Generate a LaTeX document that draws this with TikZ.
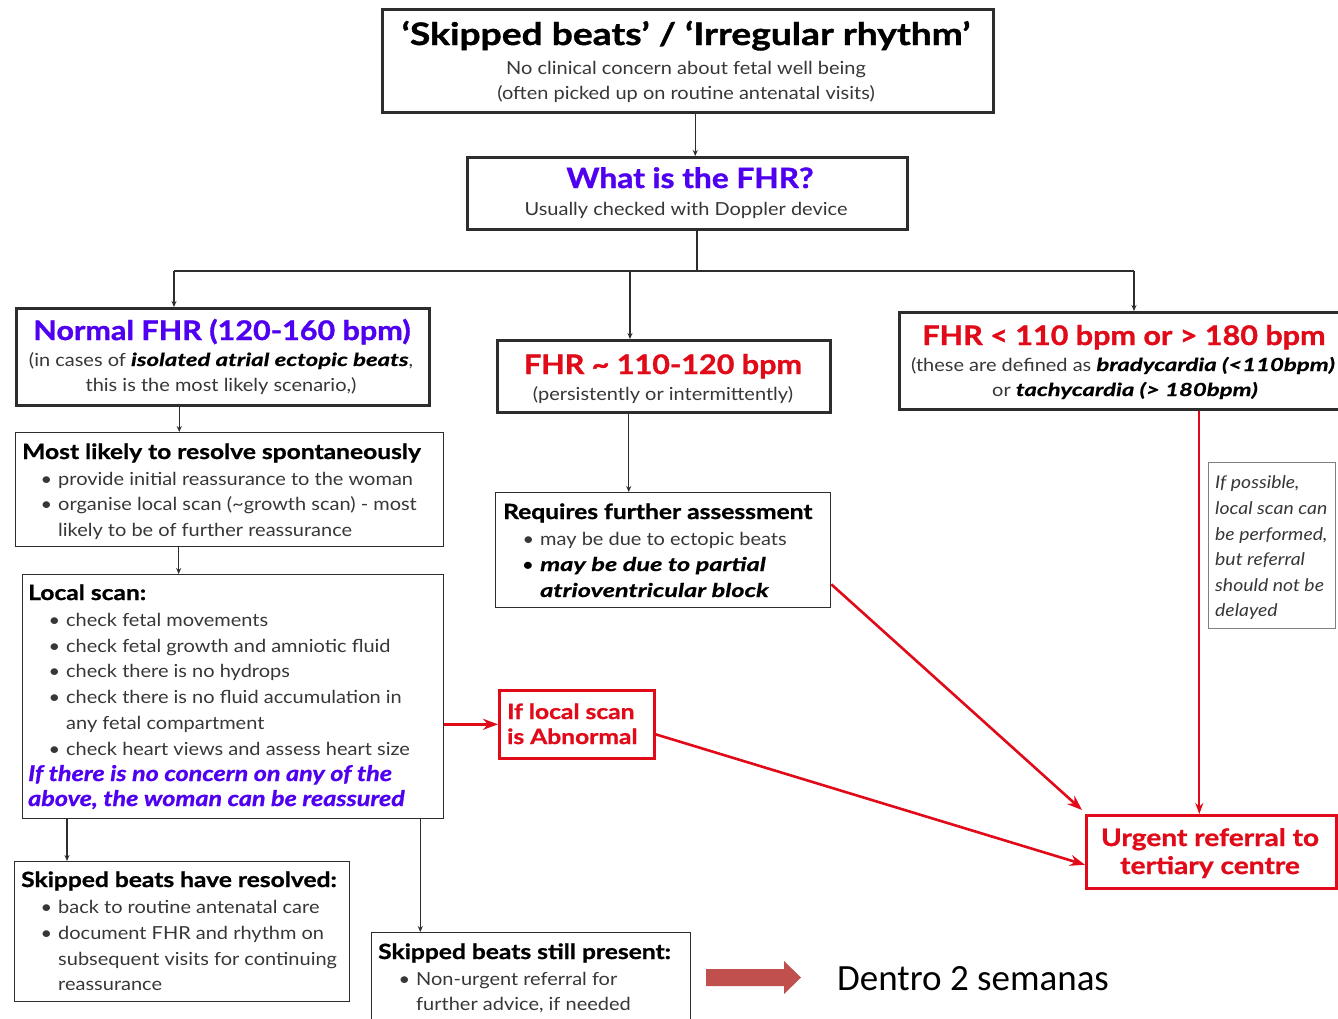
\documentclass[tikz,border=0pt]{standalone}
\usepackage{fontspec}
\setmainfont{Lato}[FakeStretch=1.11]
\newfontfamily\titlefont{Lato}[FakeStretch=1.13, FakeBold=1.2]
\newfontfamily\toptitlefont{Lato}[FakeStretch=1.2, FakeBold=1.2]
\newfontfamily\headfont{Lato}[FakeStretch=1.17, FakeBold=1.0]
\newfontfamily\bifont{Lato}[FakeStretch=1.33, FakeBold=0.6]
\newfontfamily\calibri{Carlito}
\usetikzlibrary{arrows.meta,calc}
\definecolor{fhrblue}{RGB}{80,0,240}
\definecolor{alarm}{RGB}{225,10,25}
\definecolor{blockred}{RGB}{192,80,77}
\definecolor{ink}{RGB}{45,45,45}
\definecolor{bodyink}{RGB}{55,55,55}
\newcommand{\bi}[1]{{\bifont\bfseries\itshape\color{black}#1}}
\newcommand{\bul}{\llap{\textbullet\hspace{6pt}}}
\begin{document}
\begin{tikzpicture}[x=1pt,y=-1pt,
  heavybox/.style={draw=ink, line width=2.5pt, rectangle, inner sep=0, anchor=north west},
  thinbox/.style={draw=ink, line width=1.3pt, rectangle, inner sep=0, anchor=north west},
  notebox/.style={draw=gray, line width=1.3pt, rectangle, inner sep=0, anchor=north west},
  redbox/.style={draw=alarm, line width=2.6pt, rectangle, inner sep=0, anchor=north west},
  conn/.style={draw=ink, line width=1.2pt, -{Stealth[length=6pt,width=5pt]}},
  wire/.style={draw=ink, line width=1.2pt},
  redarrow/.style={draw=alarm, line width=2.6pt, -{Stealth[length=15pt,width=11pt]}},
  redthin/.style={draw=alarm, line width=2pt, -{Stealth[length=11pt,width=8pt]}},
  tx/.style={inner sep=0, text=bodyink, font=\fontsize{18}{18}\selectfont},
  hd/.style={inner sep=0, text=black, font=\headfont\fontsize{21}{21}\selectfont\bfseries},
  big/.style={inner sep=0, font=\titlefont\fontsize{27}{27}\selectfont\bfseries},
  note/.style={inner sep=0, text=bodyink, font=\fontsize{17.5}{17.5}\selectfont\itshape},
  redtx/.style={inner sep=0, text=alarm, font=\headfont\fontsize{21}{21}\selectfont\bfseries},
]
\useasboundingbox[fill=white] (0,0) rectangle (1338,1018);

% ---------- boxes ----------
\node[heavybox, minimum width=611, minimum height=103] (top) at (381,8) {};
\node[heavybox, minimum width=440, minimum height=72] (fhr) at (466,156) {};
\node[heavybox, minimum width=413, minimum height=97] (normal) at (15,307) {};
\node[heavybox, minimum width=333, minimum height=72] (mid) at (496,339) {};
\node[heavybox, minimum width=446, minimum height=97] (rbox) at (898,311) {};
\node[thinbox, minimum width=428, minimum height=114] (likely) at (15,432) {};
\node[thinbox, minimum width=421, minimum height=244] (local) at (22,574) {};
\node[thinbox, minimum width=335, minimum height=115] (req) at (495,492) {};
\node[notebox, minimum width=127, minimum height=166] (side) at (1208,462) {};
\node[redbox, minimum width=155, minimum height=68] (abn) at (498,689) {};
\node[redbox, minimum width=250, minimum height=73] (urg) at (1085,814) {};
\node[thinbox, minimum width=335, minimum height=140] (resolved) at (14,861) {};
\node[thinbox, minimum width=319, minimum height=100] (present) at (371,932) {};

% ---------- texts ----------
\node[big, font=\toptitlefont\fontsize{31}{31}\selectfont\bfseries, anchor=base] (topT) at (686,45) {‘Skipped beats’ / ‘Irregular rhythm’};
\node[tx, anchor=base] (topA) at (686,74) {No clinical concern about fetal well being};
\node[tx, anchor=base] (topB) at (686,99) {(often picked up on routine antenatal visits)};

\node[big, text=fhrblue, font=\titlefont\fontsize{28}{28}\selectfont\bfseries, anchor=base] (fhrT) at (690,188) {What is the FHR?};
\node[tx, anchor=base] (fhrA) at (686,215) {Usually checked with Doppler device};

\node[big, text=fhrblue, anchor=base] (normT) at (222,340) {Normal FHR (120-160 bpm)};
\node[tx, anchor=base] (normA) at (221,366) {(in cases of \bi{isolated atrial ectopic beats},};
\node[tx, anchor=base] (normB) at (221,391) {this is the most likely scenario,)};

\node[big, text=alarm, anchor=base] (midT) at (663,374) {FHR \textasciitilde{} 110-120 bpm};
\node[tx, anchor=base] (midA) at (663,400) {(persistently or intermittently)};

\node[big, text=alarm, anchor=base] (rT) at (1124,345) {FHR < 110 bpm or > 180 bpm};
\node[tx, anchor=base] (rA) at (1123,371) {(these are defined as \bi{bradycardia (<110bpm)}};
\node[tx, anchor=base] (rB) at (1125,396) {or \bi{tachycardia (> 180bpm)}};

\node[hd, anchor=base west] (likT) at (22,459) {Most likely to resolve spontaneously};
\node[tx, anchor=base west] (likA) at (58,485) {\bul provide initial reassurance to the woman};
\node[tx, anchor=base west] (likB) at (58,510) {\bul organise local scan (\textasciitilde growth scan) - most};
\node[tx, anchor=base west] (likC) at (58,536) {likely to be of further reassurance};

\node[hd, anchor=base west] (locT) at (28,600) {Local scan:};
\node[tx, anchor=base west] (locA) at (66,626) {\bul check fetal movements};
\node[tx, anchor=base west] (locB) at (66,652) {\bul check fetal growth and amniotic fluid};
\node[tx, anchor=base west] (locC) at (66,677) {\bul check there is no hydrops};
\node[tx, anchor=base west] (locD) at (66,703) {\bul check there is no fluid accumulation in};
\node[tx, anchor=base west] (locE) at (66,729) {any fetal compartment};
\node[tx, anchor=base west] (locF) at (66,755) {\bul check heart views and assess heart size};
\node[hd, text=fhrblue, font=\headfont\fontsize{21.5}{21.5}\selectfont\bfseries\itshape, anchor=base west] (locG) at (28,781) {If there is no concern on any of the};
\node[hd, text=fhrblue, font=\headfont\fontsize{21.5}{21.5}\selectfont\bfseries\itshape, anchor=base west] (locH) at (28,806) {above, the woman can be reassured};

\node[hd, anchor=base west] (reqT) at (503,519) {Requires further assessment};
\node[tx, anchor=base west] (reqA) at (540,545) {\bul may be due to ectopic beats};
\node[tx, text=black, font=\fontsize{19}{19}\selectfont, anchor=base west] (reqB) at (540,571) {\bul\bi{may be due to partial}};
\node[tx, text=black, font=\fontsize{19}{19}\selectfont, anchor=base west] (reqC) at (540,597) {\bi{atrioventricular block}};

\node[note, anchor=base west] (sideA) at (1215,488) {If possible,};
\node[note, anchor=base west] (sideB) at (1215,514) {local scan can};
\node[note, anchor=base west] (sideC) at (1215,540) {be performed,};
\node[note, anchor=base west] (sideD) at (1215,565) {but referral};
\node[note, anchor=base west] (sideE) at (1215,591) {should not be};
\node[note, anchor=base west] (sideF) at (1215,616) {delayed};

\node[redtx, anchor=base west] (abnA) at (507,719) {If local scan};
\node[redtx, anchor=base west] (abnB) at (507,744) {is Abnormal};

\node[redtx, font=\headfont\fontsize{24}{24}\selectfont\bfseries, anchor=base] (urgA) at (1210,846) {Urgent referral to};
\node[redtx, font=\headfont\fontsize{24}{24}\selectfont\bfseries, anchor=base] (urgB) at (1210,874) {tertiary centre};

\node[hd, anchor=base west] (resT) at (21,887) {Skipped beats have resolved:};
\node[tx, anchor=base west] (resA) at (58,913) {\bul back to routine antenatal care};
\node[tx, anchor=base west] (resB) at (58,939) {\bul document FHR and rhythm on};
\node[tx, anchor=base west] (resC) at (58,965) {subsequent visits for continuing};
\node[tx, anchor=base west] (resD) at (58,990) {reassurance};

\node[hd, anchor=base west] (preT) at (378,959) {Skipped beats still present:};
\node[tx, anchor=base west] (preA) at (416,985) {\bul Non-urgent referral for};
\node[tx, anchor=base west] (preB) at (416,1010) {further advice, if needed};

\node[inner sep=0, anchor=base west, font=\calibri\fontsize{37}{37}\selectfont] (dentro) at (837,990) {Dentro 2 semanas};

% ---------- connectors ----------
\coordinate (busL) at (174,271);
\coordinate (busM) at (630,271);
\coordinate (busC) at (697,271);
\coordinate (busR) at (1134,271);

\draw[conn] ([xshift=8]fhr.north |- top.south) -- ([xshift=8]fhr.north);
\draw[wire] (busC |- fhr.south) -- (busC);
\draw[wire] (busL) -- (busR);
\draw[conn] (busL) -- (busL |- normal.north);
\draw[conn] (busM) -- (busM |- mid.north);
\draw[conn] (busR) -- (busR |- rbox.north);

\draw[conn] ([xshift=-43.5]normal.south) -- ([xshift=-43.5]normal.south |- likely.north);
\draw[conn] ([xshift=-51]likely.south) -- ([xshift=-51]likely.south |- local.north);
\draw[conn] ([xshift=-35]mid.south) -- ([xshift=-35]mid.south |- req.north);

\draw[conn] ([xshift=45]local.south west) -- ([xshift=45]local.south west |- resolved.north);
\draw[conn] ([xshift=-24]local.south east) -- ([xshift=-24]local.south east |- present.north);

\draw[redarrow] (abn.west -| local.east) -- (abn.west);
\draw[redarrow] ([yshift=24]req.south east) -- ([xshift=-3,yshift=4]urg.north west);
\draw[redarrow] ([yshift=-10]abn.east) -- ([yshift=-13]urg.west);
\coordinate (redx) at ([xshift=-12]urg.north);
\draw[redthin] (rbox.south -| redx) -- (redx);

% block arrow beside the closing note
\fill[blockred] (706,969) -- (784,969) -- (784,961) -- (801,977.5) -- (784,994) -- (784,986) -- (706,986) -- cycle;
\end{tikzpicture}
\end{document}
